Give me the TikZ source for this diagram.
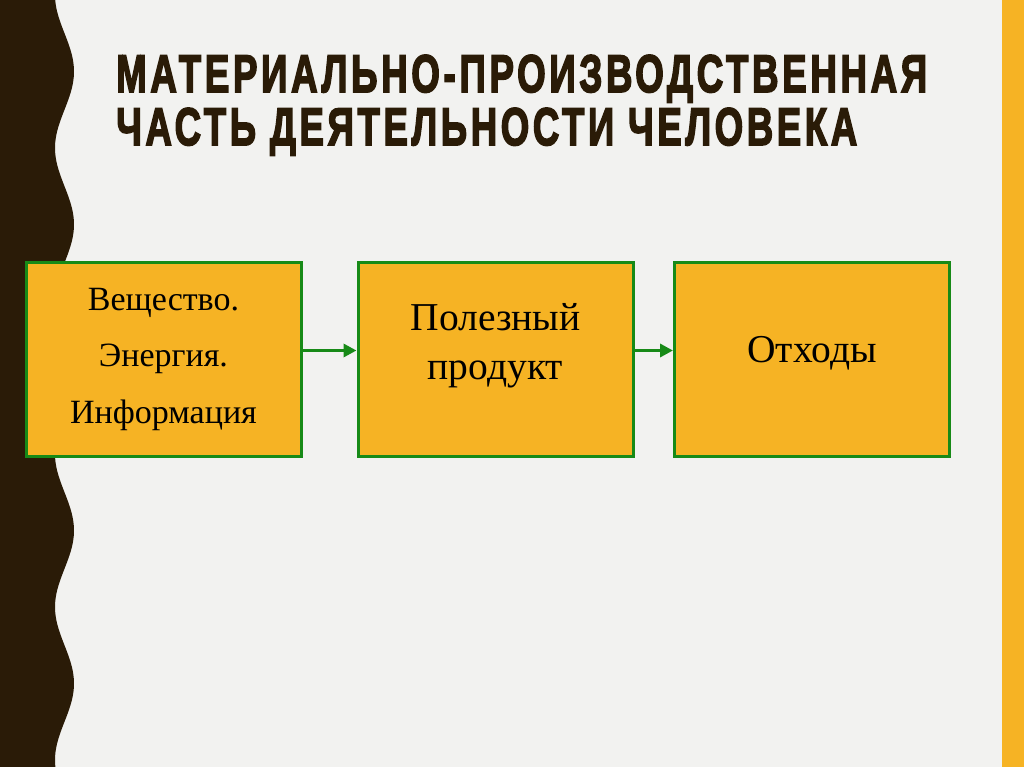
\documentclass[tikz,border=0pt]{standalone}
\usepackage{fontspec}
\setmainfont{Liberation Serif}
\newfontfamily\headfont[BoldFeatures={FakeBold=3.5,LetterSpace=10}]{Liberation Sans}
\usetikzlibrary{arrows.meta}
\definecolor{bgcol}{HTML}{F2F2F0}
\definecolor{darkbrown}{HTML}{2A1B07}
\definecolor{boxorange}{HTML}{F6B324}
\definecolor{boxgreen}{HTML}{178A17}

\begin{document}
\begin{tikzpicture}[x=1pt,y=-1pt,
  box/.style={draw=boxgreen,line width=3pt,fill=boxorange,minimum width=275pt,
    minimum height=194pt,inner sep=0pt},
  link/.style={boxgreen,line width=3.5pt,-{Triangle[length=13pt,width=13pt]}}]
\useasboundingbox (0,0) rectangle (1024,767);
\fill[bgcol] (0,0) rectangle (1024,767);
\fill[darkbrown] (0,0) -- plot[domain=0:767,samples=200]
  ({64.5-9.5*cos((\x+5)*2.3529)},\x) -- (0,767) -- cycle;
\fill[boxorange] (1002,0) rectangle (1024,767);
\foreach \X/\W [count=\Y] in
{МАТЕРИАЛЬНО-ПРОИЗВОДСТВЕННАЯ/811, ЧАСТЬ ДЕЯТЕЛЬНОСТИ ЧЕЛОВЕКА/741}
  {\node[anchor=base west,inner sep=0pt,text=darkbrown,
  font=\headfont\bfseries\fontsize{53}{53}\selectfont]
  (H-\Y) at (116,39+53*\Y) {\resizebox{\W pt}{\height}{\X}};}
\foreach \X/\Z/\F/\B/\T [count=\Y,remember=\Y as \LastY] in
{163.5/359/34/56.5/{Вещество.\\Энергия.\\Информация},
 495.5/345.5/39.5/49/{Полезный\\продукт}, 812/353/39.5/49/{Отходы}}
  {\node[box] (F-\Y) at (\X,359.5) {};
  \node[align=center,inner sep=0pt,font={\fontsize{\F}{\B}\selectfont}]
  (T-\Y) at (\X,\Z) {\T};
  \ifnum\Y>1
  \draw[link] ([yshift=9pt]F-\LastY.east) -- ([yshift=9pt]F-\Y.west);
  \fi}
\end{tikzpicture}
\end{document}
